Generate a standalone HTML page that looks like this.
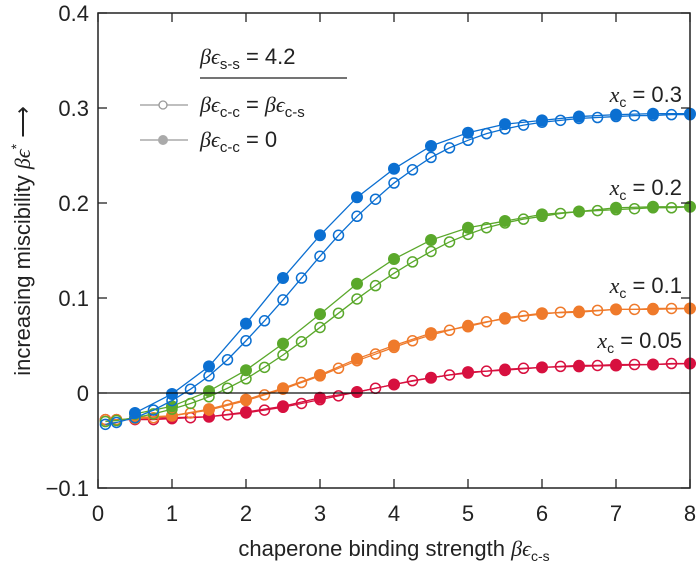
<!DOCTYPE html>
<html><head><meta charset="utf-8"><style>
body{margin:0;background:#fff;width:700px;height:565px;overflow:hidden}
svg{display:block;font-family:"Liberation Sans",sans-serif}
.t{font-size:22px;fill:#222}
.m{font-family:"Liberation Serif",serif;font-style:italic}
</style></head><body>
<svg id="chart" width="700" height="565" viewBox="0 0 700 565">
<g id="grid"></g><g id="series"></g><g id="axes"></g>
<g>
<text x="200" y="64" class="t" font-size="24"><tspan class="m">βϵ</tspan><tspan font-size="15" dy="5">s-s</tspan><tspan dy="-5"> = 4.2</tspan></text>
<line x1="200" y1="78" x2="347" y2="78" stroke="#222" stroke-width="1.3"/>
<g><line x1="140" y1="105" x2="188" y2="105" stroke="#999" stroke-width="1.3"/><circle cx="163" cy="105" r="4" fill="#fff" stroke="#999" stroke-width="1.3"/>
<text x="200" y="112" class="t" font-size="24"><tspan class="m">βϵ</tspan><tspan font-size="15" dy="5">c-c</tspan><tspan dy="-5"> = </tspan><tspan class="m">βϵ</tspan><tspan font-size="15" dy="5">c-s</tspan></text></g>
<g><line x1="140" y1="140" x2="188" y2="140" stroke="#999" stroke-width="1.3"/><circle cx="163" cy="140" r="5" fill="#aaa"/>
<text x="200" y="147" class="t" font-size="24"><tspan class="m">βϵ</tspan><tspan font-size="15" dy="5">c-c</tspan><tspan dy="-5"> = 0</tspan></text></g>
</g>
<g>
<text x="682" y="102" text-anchor="end" class="t"><tspan class="m">x</tspan><tspan font-size="14" dy="5">c</tspan><tspan dy="-5"> = 0.3</tspan></text>
<text x="682" y="195" text-anchor="end" class="t"><tspan class="m">x</tspan><tspan font-size="14" dy="5">c</tspan><tspan dy="-5"> = 0.2</tspan></text>
<text x="682" y="293" text-anchor="end" class="t"><tspan class="m">x</tspan><tspan font-size="14" dy="5">c</tspan><tspan dy="-5"> = 0.1</tspan></text>
<text x="682" y="348" text-anchor="end" class="t"><tspan class="m">x</tspan><tspan font-size="14" dy="5">c</tspan><tspan dy="-5"> = 0.05</tspan></text>
</g>
<text x="394" y="556" text-anchor="middle" class="t">chaperone binding strength <tspan class="m">βϵ</tspan><tspan font-size="14" dy="5">c-s</tspan></text>
<text transform="translate(30,241) rotate(-90)" text-anchor="middle" class="t">increasing miscibility <tspan class="m">βϵ</tspan><tspan font-size="14" dy="-9">*</tspan><tspan dy="9"> ⟶</tspan></text>
</svg>
<script>
const xTicks=[0,1,2,3,4,5,6,7,8];
const yTicks=[-0.1,0,0.1,0.2,0.3,0.4];
const yTickLabels=["−0.1","0","0.1","0.2","0.3","0.4"];
const filledX=[0.5,1,1.5,2,2.5,3,3.5,4,4.5,5,5.5,6,6.5,7,7.5,8];
const filledBlue=[-0.021,-0.001,0.028,0.073,0.121,0.166,0.206,0.236,0.26,0.274,0.283,0.287,0.291,0.293,0.294,0.294];
const filledGreen=[-0.022,-0.014,0.002,0.024,0.052,0.083,0.115,0.141,0.161,0.174,0.181,0.188,0.191,0.195,0.196,0.196];
const filledOrange=[-0.026,-0.024,-0.017,-0.007,0.005,0.019,0.036,0.05,0.063,0.07,0.079,0.084,0.085,0.088,0.088,0.089];
const filledRed=[-0.027,-0.026,-0.025,-0.02,-0.014,-0.005,0.001,0.009,0.016,0.022,0.024,0.027,0.028,0.029,0.03,0.031];
const openX=[0.1,0.25,0.5,0.75,1,1.25,1.5,1.75,2,2.25,2.5,2.75,3,3.25,3.5,3.75,4,4.25,4.5,4.75,5,5.25,5.5,5.75,6,6.25,6.5,6.75,7,7.25,7.5,7.75,8];
const openBlue=[-0.033,-0.031,-0.026,-0.018,-0.008,0.004,0.018,0.035,0.055,0.076,0.098,0.121,0.144,0.166,0.186,0.204,0.221,0.235,0.248,0.258,0.266,0.273,0.278,0.282,0.285,0.287,0.289,0.290,0.291,0.292,0.292,0.293,0.293];
const openGreen=[-0.030,-0.029,-0.026,-0.022,-0.017,-0.011,-0.004,0.005,0.015,0.027,0.040,0.054,0.069,0.084,0.099,0.113,0.126,0.138,0.149,0.159,0.167,0.174,0.179,0.183,0.186,0.189,0.191,0.192,0.193,0.194,0.195,0.195,0.196];
const openOrange=[-0.028,-0.028,-0.027,-0.026,-0.024,-0.021,-0.018,-0.013,-0.008,-0.002,0.004,0.011,0.018,0.026,0.034,0.041,0.048,0.055,0.061,0.066,0.071,0.075,0.078,0.081,0.083,0.085,0.086,0.087,0.088,0.088,0.089,0.089,0.089];
const openRed=[-0.028,-0.028,-0.028,-0.028,-0.027,-0.026,-0.025,-0.023,-0.021,-0.018,-0.015,-0.011,-0.007,-0.003,0.001,0.005,0.009,0.013,0.016,0.019,0.021,0.023,0.025,0.026,0.027,0.028,0.029,0.029,0.030,0.030,0.030,0.031,0.031];

const L=98,R=690,T=13,B=488,X0=0,X1=8,Y0=-0.1,Y1=0.4;
const sx=v=>L+(v-X0)/(X1-X0)*(R-L);
const sy=v=>B-(v-Y0)/(Y1-Y0)*(B-T);
const NS="http://www.w3.org/2000/svg";
function mk(tag,attrs,parent){const e=document.createElementNS(NS,tag);for(const k in attrs)e.setAttribute(k,attrs[k]);parent.appendChild(e);return e;}
const axes=document.getElementById('axes'),series=document.getElementById('series');

const colors={blue:"#0b6fd1",green:"#5aa82b",orange:"#ef7a2b",red:"#d7103f"};
const sets=[["red",openRed,filledRed],["orange",openOrange,filledOrange],["green",openGreen,filledGreen],["blue",openBlue,filledBlue]];
sets.forEach(([name,ov,fv])=>{
  const c=colors[name];
  const op=mk('polyline',{points:openX.map((x,i)=>sx(x)+','+sy(ov[i])).join(' '),fill:'none',stroke:c,'stroke-width':1.3},series);
  
  
  openX.forEach((x,i)=>{
    const m=mk('circle',{cx:sx(x),cy:sy(ov[i]),r:5,fill:'none',stroke:c,'stroke-width':1.5},series);
    
    
  });
  const fp=mk('polyline',{points:filledX.map((x,i)=>sx(x)+','+sy(fv[i])).join(' '),fill:'none',stroke:c,'stroke-width':1.3},series);
  
  
  filledX.forEach((x,i)=>{
    const m=mk('circle',{cx:sx(x),cy:sy(fv[i]),r:6,fill:c},series);
    
    
  });
});

const zl=mk('line',{x1:L,x2:R,y1:sy(0),y2:sy(0),stroke:'#111','stroke-width':1.3},axes);


const frame=mk('rect',{x:L,y:T,width:R-L,height:B-T,fill:'none',stroke:'#222','stroke-width':1.5},axes);


xTicks.forEach(v=>{
  mk('line',{x1:sx(v),x2:sx(v),y1:B,y2:B-9,stroke:'#222','stroke-width':1.3},axes);
  mk('line',{x1:sx(v),x2:sx(v),y1:T,y2:T+9,stroke:'#222','stroke-width':1.3},axes);
  const t=mk('text',{x:sx(v),y:B+33,'text-anchor':'middle','class':'t','font-size':'24'},axes);
  t.textContent=v;
  
  
});
yTicks.forEach((v,i)=>{
  mk('line',{x1:L,x2:L+9,y1:sy(v),y2:sy(v),stroke:'#222','stroke-width':1.3},axes);
  mk('line',{x1:R,x2:R-9,y1:sy(v),y2:sy(v),stroke:'#222','stroke-width':1.3},axes);
  const t=mk('text',{x:L-9,y:sy(v)+8,'text-anchor':'end','class':'t','font-size':'24'},axes);
  t.textContent=yTickLabels[i];
  
  
});
</script>
</body></html>
